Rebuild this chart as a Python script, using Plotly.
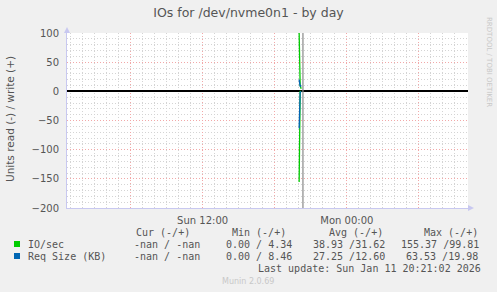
import plotly.graph_objects as go

# ---- data ----
times = ["2026-01-11 20:02", "2026-01-11 20:07", "2026-01-11 20:12"]
io_write = [99.81, 10.0, 4.34]
io_read = [155.37, 0.0, 0.0]
req_write = [19.98, 8.46, 10.0]
req_read = [63.53, 2.0, 0.0]

x_range = ["2026-01-11 00:43", "2026-01-12 10:05"]
x_tickvals = ["2026-01-11 06:00", "2026-01-11 12:00", "2026-01-11 18:00",
              "2026-01-12 00:00", "2026-01-12 06:00"]
x_ticktext = ["", "Sun 12:00", "", "Mon 00:00", ""]
y_tickvals = [-200, -150, -100, -50, 0, 50, 100]
now_time = "2026-01-11 20:21"

legend_header = ["Cur (-/+)", "Min (-/+)", "Avg (-/+)", "Max (-/+)"]
legend_rows = [
    ("IO/sec", "#00CC00", ["-nan / -nan", "0.00 / 4.34", "38.93 /31.62", "155.37 /99.81"]),
    ("Req Size (KB)", "#0066B3", ["-nan / -nan", "0.00 / 8.46", "27.25 /12.60", "63.53 /19.98"]),
]

W, H = 497, 292
L, R, T, B = 67, 468, 33, 208

def px(x):
    return (x - L) / (R - L)

def py(y):
    return (B - y) / (B - T)

fig = go.Figure()
fig.add_trace(go.Scatter(x=times, y=io_write, mode="lines", line=dict(color="#00CC00", width=1.3), showlegend=False))
fig.add_trace(go.Scatter(x=times, y=[-v for v in io_read], mode="lines", line=dict(color="#00CC00", width=1.3), showlegend=False))
fig.add_trace(go.Scatter(x=times, y=req_write, mode="lines", line=dict(color="#0066B3", width=1.3), showlegend=False))
fig.add_trace(go.Scatter(x=times, y=[-v for v in req_read], mode="lines", line=dict(color="#0066B3", width=1.3), showlegend=False))

fig.add_shape(type="line", xref="x", yref="paper", x0=now_time, x1=now_time, y0=0, y1=1,
              line=dict(color="#888888", width=1.2))

axis_col = "#C8C8F0"
major_grid = dict(showgrid=True, gridcolor="#F2A8A8", griddash="1px,2px", gridwidth=1)
minor_grid = dict(showgrid=True, gridcolor="#D4D4D4", griddash="1px,2px", gridwidth=1)
fig.update_layout(
    width=W, height=H,
    margin=dict(l=L, r=W - R, t=T, b=H - B, pad=0),
    paper_bgcolor="#F0F0F0", plot_bgcolor="#FFFFFF",
    font=dict(family="DejaVu Sans", size=10, color="#555555"),
    title=dict(text="IOs for /dev/nvme0n1 - by day", x=0.5, xref="container", xanchor="center",
               y=1 - 13 / H, yanchor="middle", font=dict(size=12.5, color="#555555")),
    xaxis=dict(type="date", range=x_range, tickmode="array", tickvals=x_tickvals, ticktext=x_ticktext,
               **major_grid,
               showline=True, linecolor=axis_col, linewidth=1, ticks="", ticklabelstandoff=3,
               tickfont=dict(size=10, color="#555555"), zeroline=False,
               minor=dict(tickmode="linear", tick0="2026-01-11 00:00", dtick=3600000, **minor_grid)),
    yaxis=dict(range=[-200, 100], tickmode="array", tickvals=y_tickvals,
               **major_grid,
               showline=True, linecolor=axis_col, linewidth=1, ticks="", ticklabelstandoff=5,
               tickfont=dict(size=10, color="#555555"),
               zeroline=True, zerolinecolor="#000000", zerolinewidth=1.5,
               minor=dict(tickmode="linear", tick0=0, dtick=10, **minor_grid)),
)

# axis arrows
fig.add_shape(type="path", xref="paper", yref="paper",
              path=f"M {px(64)} {py(33)} L {px(70)} {py(33)} L {px(67)} {py(27)} Z",
              fillcolor=axis_col, line=dict(width=0))
fig.add_shape(type="path", xref="paper", yref="paper",
              path=f"M {px(468)} {py(205)} L {px(468)} {py(211)} L {px(474)} {py(208)} Z",
              fillcolor=axis_col, line=dict(width=0))

def ann(text, x, y, xanchor="left", size=10, color="#555555", family="DejaVu Sans Mono", angle=0):
    fig.add_annotation(text=text, xref="paper", yref="paper", x=px(x), y=py(y),
                       xanchor=xanchor, yanchor="middle", showarrow=False, textangle=angle,
                       font=dict(family=family, size=size, color=color))

ann("Units read (-) / write (+)", 10, 119, xanchor="center", size=10.5, family="DejaVu Sans", angle=-90)
ann("RRDTOOL / TOBI OETIKER", 489, 62, xanchor="center", size=7, color="#C8C8C8", family="DejaVu Sans", angle=90)

col_x = [134, 230, 327, 422]
for hx, h in zip(col_x, legend_header):
    ann(h, hx, 232)
val_x = [[132, 224, 311, 399], [132, 224, 311, 404]]
for i, (name, color, vals) in enumerate(legend_rows):
    yy = 244 + 12 * i
    fig.add_shape(type="rect", xref="paper", yref="paper",
                  x0=px(14), x1=px(20), y0=py(yy - 3), y1=py(yy + 3),
                  fillcolor=color, line=dict(width=0))
    ann(name, 26, yy)
    for vx, v in zip(val_x[i], vals):
        ann(v, vx, yy)
ann("Last update: Sun Jan 11 20:21:02 2026", 483, 268, xanchor="right")
ann("Munin 2.0.69", 248, 281, xanchor="center", size=8, color="#C8C8C8", family="DejaVu Sans")

fig.write_html("out.html")
